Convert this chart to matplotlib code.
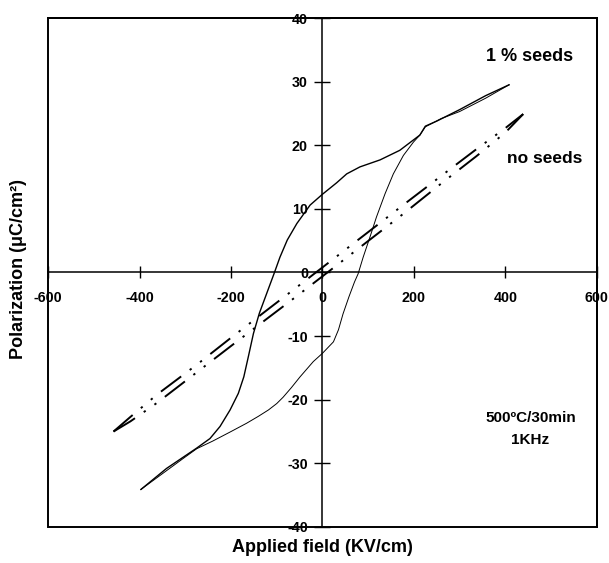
import matplotlib
matplotlib.use("Agg")
import matplotlib.pyplot as plt
from matplotlib.patches import Rectangle

plt.rcParams["font.family"] = ["Liberation Sans", "DejaVu Sans"]
plt.rcParams["font.weight"] = "bold"
plt.rcParams["axes.unicode_minus"] = False

# 1 % seeds loop, upper branch (field going down)
SEED_DOWN_X = [408, 357, 300, 250, 225, 213, 169, 126, 82, 53, 31, 0, -27, -56, -77, -93, -106,
               -122, -138, -151, -162, -172, -184, -202, -224, -246, -275, -341, -397]
SEED_DOWN_Y = [29.5, 27.8, 25.6, 23.8, 23.0, 21.6, 19.2, 17.7, 16.6, 15.5, 14.1, 12.3, 10.6, 7.7, 5.1, 2.4, -0.2,
               -3.3, -6.4, -9.6, -13.2, -16.4, -19.0, -21.6, -24.2, -26.1, -27.6, -30.8, -34.1]
# 1 % seeds loop, lower branch (field going up)
SEED_UP_X = [-397, -304, -275, -240, -200, -166, -140, -118, -100, -86, -68, -49, -20, 0, 24, 35, 45, 58, 70, 78,
             89, 104, 118, 137, 155, 177, 199, 213, 225, 260, 300, 357, 408]
SEED_UP_Y = [-34.1, -29.2, -27.7, -26.5, -25.0, -23.7, -22.6, -21.6, -20.6, -19.6, -18.1, -16.4, -14.0, -12.7,
             -10.9, -9.0, -6.5, -3.8, -1.5, -0.2,
             2.4, 5.6, 8.7, 12.4, 15.5, 18.4, 20.5, 21.6, 22.9, 24.2, 25.3, 27.4, 29.5]

# no seeds loop
NOSEED_X = [-457, -420, -362, -275, -199, -56, 0, 180, 260, 337, 400, 439]
NOSEED_UPPER_Y = [-25.0, -22.7, -19.2, -14.5, -10.2, -2.3, 0.8, 10.8, 15.2, 19.4, 22.7, 24.9]
NOSEED_LOWER_Y = [-25.0, -23.4, -20.5, -15.7, -11.5, -3.7, -0.6, 9.4, 14.0, 18.3, 22.0, 24.9]

X_TICKS = [-600, -400, -200, 0, 200, 400, 600]
Y_TICKS = [-40, -30, -20, -10, 0, 10, 20, 30, 40]

fig = plt.figure(figsize=(6.09, 5.63), dpi=100)
ax = fig.add_axes([0.079, 0.064, 0.901, 0.904])

ax.plot(SEED_DOWN_X, SEED_DOWN_Y, color="black", linewidth=1.0)
ax.plot(SEED_UP_X, SEED_UP_Y, color="black", linewidth=0.7)

dash = (0, (13, 5.5, 1.2, 5.5, 1.2, 5.5))
ax.plot(NOSEED_X, NOSEED_UPPER_Y, color="black", linewidth=1.4, linestyle=dash)
ax.plot(NOSEED_X, NOSEED_LOWER_Y, color="black", linewidth=1.4, linestyle=dash)

ax.set_xlim(-600, 600)
ax.set_ylim(-40, 40)
ax.set_xticks(X_TICKS)
ax.set_yticks(Y_TICKS)

ax.spines["left"].set_position(("data", 0))
ax.spines["bottom"].set_position(("data", 0))
for s in ax.spines.values():
    s.set_linewidth(1.1)
ax.spines["top"].set_linewidth(1.4)
ax.spines["right"].set_linewidth(1.4)
ax.add_patch(Rectangle((0, 0), 1, 1, transform=ax.transAxes, fill=False,
                       linewidth=1.4, edgecolor="black", clip_on=False))

ax.tick_params(axis="both", direction="inout", width=1.0, labelsize=10.3)
ax.tick_params(axis="x", length=8, pad=9)
ax.tick_params(axis="y", length=11, pad=5)
for lab in ax.get_xticklabels() + ax.get_yticklabels():
    lab.set_fontweight("bold")

ax.text(453, 33.9, "1 % seeds", fontsize=13, fontweight="bold", ha="center", va="center")
ax.text(486, 17.9, "no seeds", fontsize=12.5, fontweight="bold", ha="center", va="center")
ax.text(455, -22.9, "500ºC/30min", fontsize=11, fontweight="bold", ha="center", va="center")
ax.text(455, -26.3, "1KHz", fontsize=11, fontweight="bold", ha="center", va="center")

fig.text(0.53, 0.027, "Applied field (KV/cm)", fontsize=13, fontweight="bold",
         ha="center", va="center")
fig.text(0.03, 0.522, "Polarization (μC/cm²)", fontsize=13, fontweight="bold",
         ha="center", va="center", rotation=90)

fig.savefig("out.png", dpi=100)
